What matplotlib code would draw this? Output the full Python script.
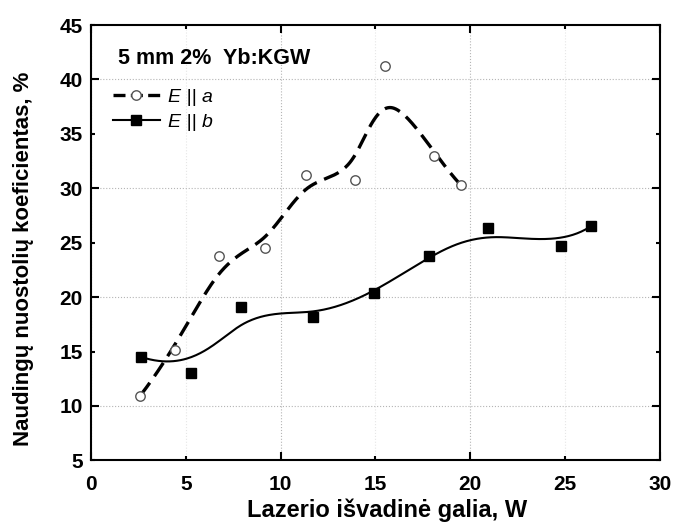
import numpy as np
import matplotlib.pyplot as plt
from matplotlib.lines import Line2D
from matplotlib.ticker import MultipleLocator, FormatStrFormatter

plt.rcParams['font.family'] = ['Liberation Sans', 'DejaVu Sans']

# E || a (open circles)
power_a = [2.6, 4.45, 6.75, 9.2, 11.35, 13.9, 15.5, 18.1, 19.5]
loss_a = [10.95, 15.15, 23.8, 24.5, 31.2, 30.75, 41.2, 32.95, 30.3]

# E || b (filled squares)
power_b = [2.65, 5.3, 7.9, 11.7, 14.9, 17.85, 20.95, 24.8, 26.35]
loss_b = [14.5, 13.0, 19.05, 18.15, 20.35, 23.8, 26.35, 24.7, 26.5]


def bspline(xs, ys, k=3, num=400):
    # clamped cubic B-spline with the data points as control points
    pts = np.column_stack([xs, ys])
    n = len(pts)
    knots = np.concatenate([np.zeros(k), np.arange(n - k + 1), np.full(k, n - k)]).astype(float)
    t = np.linspace(0, n - k, num)
    m = len(knots)
    N = np.zeros((m - 1, num))
    for i in range(m - 1):
        N[i] = (knots[i] <= t) & (t < knots[i + 1])
    N[n - 1, -1] = 1.0
    for p in range(1, k + 1):
        Nn = np.zeros((m - 1 - p, num))
        for i in range(m - 1 - p):
            d1 = knots[i + p] - knots[i]
            d2 = knots[i + p + 1] - knots[i + 1]
            a = (t - knots[i]) / d1 * N[i] if d1 > 0 else 0
            b = (knots[i + p + 1] - t) / d2 * N[i + 1] if d2 > 0 else 0
            Nn[i] = a + b
        N = Nn
    c = N.T @ pts
    return c[:, 0], c[:, 1]


fig = plt.figure(figsize=(6.74, 5.32), dpi=100)
ax = fig.add_axes([0.135, 0.1346, 0.844, 0.8184])

xa, ya = bspline(power_a, loss_a)
xb, yb = bspline(power_b, loss_b)

ax.plot(xa, ya, color='black', lw=2.4, dashes=(4.8, 2.4), zorder=2)
ax.plot(xb, yb, color='black', lw=1.5, zorder=2)
ax.plot(power_a, loss_a, 'o', ms=6.8, mfc='white', mec='#555555', mew=1.0, zorder=3)
ax.plot(power_b, loss_b, 's', ms=6.5, color='black', zorder=3)

ax.set_xlim(0, 30)
ax.set_ylim(5, 45)
ax.xaxis.set_major_locator(MultipleLocator(10))
ax.xaxis.set_minor_locator(MultipleLocator(5))
ax.yaxis.set_major_locator(MultipleLocator(10))
ax.yaxis.set_minor_locator(MultipleLocator(5))
for axis in (ax.xaxis, ax.yaxis):
    axis.set_major_formatter(FormatStrFormatter('%d'))
    axis.set_minor_formatter(FormatStrFormatter('%d'))

ax.tick_params(which='both', direction='in', top=True, right=True, labelsize=15, width=1.5)
ax.tick_params(axis='x', which='both', pad=10.5)
ax.tick_params(axis='y', which='both', pad=6)
ax.tick_params(which='major', length=6)
ax.tick_params(which='minor', length=3)
for lbl in ax.get_xticklabels(which='both') + ax.get_yticklabels(which='both'):
    lbl.set_fontweight('bold')
for s in ax.spines.values():
    s.set_linewidth(1.5)

ax.grid(which='major', color='#b5b5b5', linestyle=':', linewidth=0.8)
ax.xaxis.grid(which='minor', color='#e6e6e6', linestyle=':', linewidth=0.8)
ax.set_axisbelow(True)

ax.set_xlabel('Lazerio išvadinė galia, W', fontsize=17, fontweight='bold')
ax.set_ylabel('Naudingų nuostolių koeficientas, %', fontsize=16, fontweight='bold')
ax.xaxis.set_label_coords(0.52, -0.088)
ax.yaxis.set_label_coords(-0.1, 0.462)

ax.text(0.048, 0.922, '5 mm 2%  Yb:KGW', transform=ax.transAxes, fontsize=15.5,
        fontweight='bold', va='center', ha='left')

handles = [
    Line2D([], [], color='black', lw=2.4, dashes=(3.6, 1.6), marker='o', ms=6.8,
           mfc='white', mec='#555555', mew=1.0),
    Line2D([], [], color='black', lw=1.5, marker='s', ms=6.5),
]
leg = ax.legend(handles, ['E || a', 'E || b'], loc='upper left',
                bbox_to_anchor=(0.0387, 0.855), frameon=False, handlelength=2.4,
                handletextpad=0.42, labelspacing=0.38, borderpad=0, borderaxespad=0,
                prop={'size': 14, 'style': 'italic'})

fig.savefig('out.png', dpi=100)
